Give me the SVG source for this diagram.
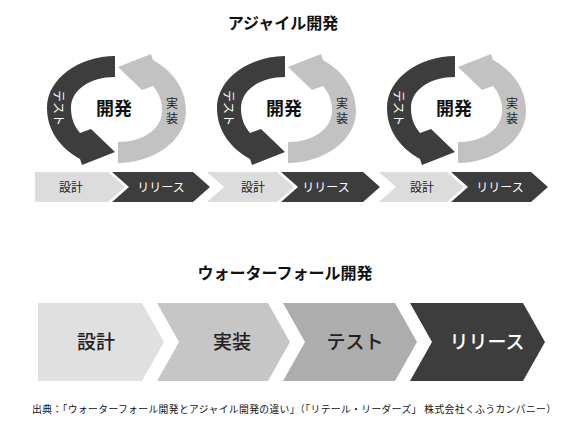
<svg xmlns="http://www.w3.org/2000/svg" xmlns:xlink="http://www.w3.org/1999/xlink" width="567" height="423" viewBox="0 0 567 423">
<style>
text{font-family:"Noto Sans CJK JP","Noto Sans",sans-serif;}
.title{font-size:16px;font-weight:bold;fill:#111;text-anchor:middle;}
.core{font-size:18px;font-weight:bold;fill:#111;text-anchor:middle;}
.dk{fill:#3d3d3d;}
.lt{fill:#c2c2c2;}
.bx1{fill:#dcdcdc;}
.wf1{fill:#e0e0e0;}
.wf2{fill:#c6c6c6;}
.wf3{fill:#adadad;}
.wf4{fill:#3d3d3d;}
.sm{font-size:12px;text-anchor:middle;}
.wt{font-size:19px;text-anchor:middle;font-weight:500;}
.onl{fill:#222;}
.ond{fill:#fff;}
.foot{font-size:9.8px;fill:#111;}
</style>
<defs>
<path id="arc" d="M115,56 C80,56 47,78 47,108 C47,130 60,148 80,159 L82,165 L115,152 L91,129 L80,133 C74,126 71,118 71,108 C71,90 90,77 115,77 Z"/>
<g id="cycle">
<use xlink:href="#arc" class="dk"/>
<use xlink:href="#arc" class="lt" transform="rotate(180 116.5 109.5)"/>
<text class="sm ond" font-size="11" transform="translate(58,108) rotate(90)" dy="4">テスト</text>
<text class="sm onl" x="172" y="108">実</text>
<text class="sm onl" x="172" y="123">装</text>
<text class="core" x="114" y="115">開発</text>
</g>
</defs>
<text class="title" x="283" y="29">アジャイル開発</text>
<g id="agile1">
<use xlink:href="#cycle"/>
<polygon class="bx1" points="35,172 108,172 125,187 108,202 35,202"/>
<text class="sm onl" x="71" y="192">設計</text>
<polygon class="dk" points="112,172 193,172 210,187 193,202 112,202 129,187"/>
<text class="sm ond" x="161" y="192">リリース</text>
</g>
<g id="agile2">
<use xlink:href="#cycle" transform="translate(170,0)"/>
<polygon class="bx1" points="207,172 277,172 294,187 277,202 207,202 224,187"/>
<text class="sm onl" x="253" y="192">設計</text>
<polygon class="dk" points="281,172 363,172 380,187 363,202 281,202 298,187"/>
<text class="sm ond" x="326" y="192">リリース</text>
</g>
<g id="agile3">
<use xlink:href="#cycle" transform="translate(340,0)"/>
<polygon class="bx1" points="379,172 447,172 464,187 447,202 379,202 396,187"/>
<text class="sm onl" x="422" y="192">設計</text>
<polygon class="dk" points="451,172 531,172 548,187 531,202 451,202 468,187"/>
<text class="sm ond" x="500" y="192">リリース</text>
</g>
<text class="title" x="285" y="279">ウォーターフォール開発</text>
<g id="wf-design">
<polygon class="wf1" points="38,303 142,303 164,342 142,381 38,381"/>
<text class="wt onl" x="96" y="349">設計</text>
</g>
<g id="wf-impl">
<polygon class="wf2" points="157,303 268,303 290,342 268,381 157,381 179,342"/>
<text class="wt onl" x="232" y="349">実装</text>
</g>
<g id="wf-test">
<polygon class="wf3" points="283,303 395,303 417,342 395,381 283,381 305,342"/>
<text class="wt onl" x="355" y="349">テスト</text>
</g>
<g id="wf-release">
<polygon class="wf4" points="410,303 523,303 545,342 523,381 410,381 432,342"/>
<text class="wt ond" x="487" y="349">リリース</text>
</g>
<g id="connectors"></g>
<text class="foot" x="32" y="413" textLength="524" lengthAdjust="spacing">出典：「ウォーターフォール開発とアジャイル開発の違い」（「リテール・リーダーズ」 株式会社くふうカンパニー）</text>
</svg>
